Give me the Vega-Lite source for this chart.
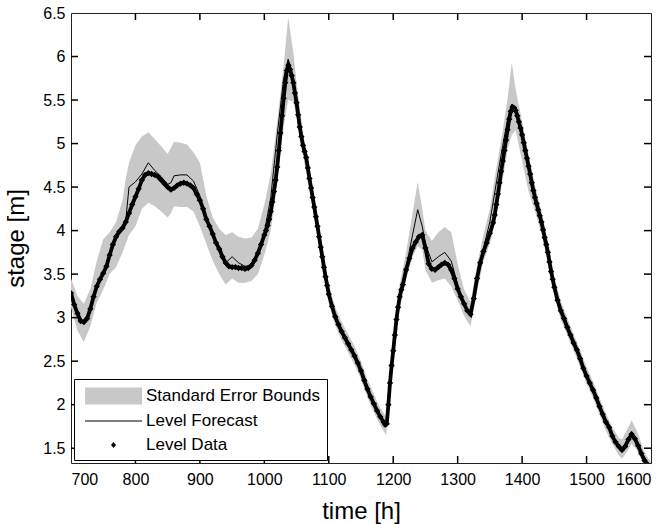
{
  "$schema": "https://vega.github.io/schema/vega-lite/v6.json",
  "width": 580,
  "height": 450,
  "autosize": {"type": "none"},
  "padding": {"left": 71, "top": 13, "right": 14, "bottom": 61},
  "background": "white",
  "config": {
    "view": {"stroke": "#222", "strokeWidth": 1},
    "font": "Liberation Sans",
    "axis": {
      "domain": false,
      "grid": false,
      "ticks": false,
      "labelColor": "black",
      "labelFontSize": 16,
      "labelFont": "Liberation Sans",
      "titleFont": "Liberation Sans",
      "titleFontSize": 24,
      "titleFontWeight": "normal",
      "titleColor": "black"
    }
  },
  "datasets": {
    "fc": [
      {"t": 700, "f": 3.28, "lo": 3.12, "hi": 3.45},
      {"t": 710, "f": 3.05, "lo": 2.85, "hi": 3.25},
      {"t": 720, "f": 2.95, "lo": 2.72, "hi": 3.16},
      {"t": 730, "f": 3.10, "lo": 2.90, "hi": 3.33},
      {"t": 740, "f": 3.36, "lo": 3.17, "hi": 3.65},
      {"t": 750, "f": 3.51, "lo": 3.32, "hi": 3.90},
      {"t": 760, "f": 3.72, "lo": 3.50, "hi": 3.98},
      {"t": 770, "f": 3.93, "lo": 3.58, "hi": 4.10},
      {"t": 780, "f": 4.03, "lo": 3.75, "hi": 4.35},
      {"t": 785, "f": 4.12, "lo": 3.85, "hi": 4.60},
      {"t": 790, "f": 4.50, "lo": 3.95, "hi": 4.78},
      {"t": 800, "f": 4.56, "lo": 4.05, "hi": 4.98},
      {"t": 810, "f": 4.65, "lo": 4.25, "hi": 5.08},
      {"t": 820, "f": 4.78, "lo": 4.32, "hi": 5.13},
      {"t": 830, "f": 4.69, "lo": 4.28, "hi": 5.05},
      {"t": 840, "f": 4.62, "lo": 4.22, "hi": 4.97},
      {"t": 850, "f": 4.53, "lo": 4.15, "hi": 4.88},
      {"t": 855, "f": 4.55, "lo": 4.20, "hi": 4.95},
      {"t": 860, "f": 4.63, "lo": 4.28, "hi": 5.02},
      {"t": 870, "f": 4.64, "lo": 4.27, "hi": 5.01},
      {"t": 880, "f": 4.64, "lo": 4.27, "hi": 4.99},
      {"t": 890, "f": 4.57, "lo": 4.22, "hi": 4.90},
      {"t": 900, "f": 4.40, "lo": 4.05, "hi": 4.78},
      {"t": 910, "f": 4.13, "lo": 3.85, "hi": 4.40},
      {"t": 920, "f": 3.96, "lo": 3.65, "hi": 4.15},
      {"t": 930, "f": 3.79, "lo": 3.50, "hi": 4.02},
      {"t": 940, "f": 3.63, "lo": 3.38, "hi": 3.95},
      {"t": 950, "f": 3.70, "lo": 3.45, "hi": 3.98},
      {"t": 960, "f": 3.63, "lo": 3.40, "hi": 3.93},
      {"t": 970, "f": 3.59, "lo": 3.40, "hi": 3.91},
      {"t": 980, "f": 3.60, "lo": 3.42, "hi": 3.92},
      {"t": 990, "f": 3.74, "lo": 3.50, "hi": 4.02},
      {"t": 1000, "f": 3.98, "lo": 3.72, "hi": 4.30},
      {"t": 1010, "f": 4.38, "lo": 4.00, "hi": 4.65},
      {"t": 1020, "f": 5.10, "lo": 4.55, "hi": 5.25},
      {"t": 1030, "f": 5.75, "lo": 5.20, "hi": 5.90},
      {"t": 1037, "f": 5.97, "lo": 5.50, "hi": 6.45},
      {"t": 1045, "f": 5.72, "lo": 5.48, "hi": 6.05},
      {"t": 1050, "f": 5.47, "lo": 5.30, "hi": 5.70},
      {"t": 1060, "f": 4.98, "lo": 4.86, "hi": 5.12},
      {"t": 1070, "f": 4.60, "lo": 4.47, "hi": 4.72},
      {"t": 1080, "f": 4.16, "lo": 4.04, "hi": 4.28},
      {"t": 1090, "f": 3.70, "lo": 3.58, "hi": 3.82},
      {"t": 1100, "f": 3.27, "lo": 3.16, "hi": 3.38},
      {"t": 1110, "f": 3.01, "lo": 2.91, "hi": 3.12},
      {"t": 1120, "f": 2.84, "lo": 2.74, "hi": 2.95},
      {"t": 1130, "f": 2.70, "lo": 2.60, "hi": 2.81},
      {"t": 1140, "f": 2.56, "lo": 2.46, "hi": 2.67},
      {"t": 1150, "f": 2.39, "lo": 2.29, "hi": 2.50},
      {"t": 1160, "f": 2.18, "lo": 2.08, "hi": 2.29},
      {"t": 1170, "f": 2.01, "lo": 1.91, "hi": 2.12},
      {"t": 1180, "f": 1.86, "lo": 1.76, "hi": 1.96},
      {"t": 1189, "f": 1.76, "lo": 1.65, "hi": 1.86},
      {"t": 1195, "f": 2.25, "lo": 2.12, "hi": 2.38},
      {"t": 1200, "f": 2.62, "lo": 2.50, "hi": 2.75},
      {"t": 1210, "f": 3.24, "lo": 3.10, "hi": 3.38},
      {"t": 1220, "f": 3.58, "lo": 3.44, "hi": 3.75},
      {"t": 1230, "f": 3.95, "lo": 3.70, "hi": 4.20},
      {"t": 1238, "f": 4.24, "lo": 3.82, "hi": 4.56},
      {"t": 1245, "f": 4.05, "lo": 3.78, "hi": 4.25},
      {"t": 1250, "f": 3.85, "lo": 3.55, "hi": 4.00},
      {"t": 1260, "f": 3.64, "lo": 3.40, "hi": 3.88},
      {"t": 1270, "f": 3.70, "lo": 3.43, "hi": 3.98},
      {"t": 1280, "f": 3.75, "lo": 3.45, "hi": 4.04},
      {"t": 1290, "f": 3.65, "lo": 3.36, "hi": 3.98},
      {"t": 1300, "f": 3.38, "lo": 3.20, "hi": 3.62},
      {"t": 1310, "f": 3.16, "lo": 3.02, "hi": 3.32},
      {"t": 1320, "f": 3.04, "lo": 2.90, "hi": 3.18},
      {"t": 1330, "f": 3.45, "lo": 3.30, "hi": 3.60},
      {"t": 1340, "f": 3.80, "lo": 3.65, "hi": 3.95},
      {"t": 1350, "f": 4.10, "lo": 3.85, "hi": 4.25},
      {"t": 1360, "f": 4.55, "lo": 4.15, "hi": 4.72},
      {"t": 1370, "f": 4.98, "lo": 4.60, "hi": 5.15},
      {"t": 1378, "f": 5.30, "lo": 4.95, "hi": 5.55},
      {"t": 1384, "f": 5.45, "lo": 5.10, "hi": 5.93},
      {"t": 1390, "f": 5.38, "lo": 5.15, "hi": 5.62},
      {"t": 1400, "f": 5.10, "lo": 4.80, "hi": 5.25},
      {"t": 1410, "f": 4.74, "lo": 4.45, "hi": 4.88},
      {"t": 1420, "f": 4.38, "lo": 4.22, "hi": 4.52},
      {"t": 1430, "f": 4.10, "lo": 3.96, "hi": 4.22},
      {"t": 1440, "f": 3.75, "lo": 3.62, "hi": 3.88},
      {"t": 1450, "f": 3.35, "lo": 3.24, "hi": 3.47},
      {"t": 1460, "f": 3.08, "lo": 2.98, "hi": 3.19},
      {"t": 1470, "f": 2.89, "lo": 2.80, "hi": 3.00},
      {"t": 1480, "f": 2.71, "lo": 2.62, "hi": 2.81},
      {"t": 1490, "f": 2.53, "lo": 2.44, "hi": 2.63},
      {"t": 1500, "f": 2.33, "lo": 2.24, "hi": 2.43},
      {"t": 1510, "f": 2.17, "lo": 2.08, "hi": 2.27},
      {"t": 1520, "f": 1.98, "lo": 1.89, "hi": 2.08},
      {"t": 1530, "f": 1.80, "lo": 1.70, "hi": 1.90},
      {"t": 1540, "f": 1.64, "lo": 1.55, "hi": 1.74},
      {"t": 1550, "f": 1.52, "lo": 1.42, "hi": 1.62},
      {"t": 1555, "f": 1.48, "lo": 1.38, "hi": 1.60},
      {"t": 1562, "f": 1.55, "lo": 1.45, "hi": 1.70},
      {"t": 1570, "f": 1.66, "lo": 1.55, "hi": 1.82},
      {"t": 1578, "f": 1.58, "lo": 1.48, "hi": 1.70},
      {"t": 1590, "f": 1.36, "lo": 1.28, "hi": 1.45},
      {"t": 1600, "f": 1.28, "lo": 1.22, "hi": 1.34}
    ],
    "obs": [
      {"t": 700, "d": 3.28}, {"t": 705, "d": 3.15}, {"t": 710, "d": 3.05}, {"t": 715, "d": 2.96},
      {"t": 720, "d": 2.95}, {"t": 725, "d": 2.99}, {"t": 730, "d": 3.10}, {"t": 735, "d": 3.24},
      {"t": 740, "d": 3.36}, {"t": 745, "d": 3.44}, {"t": 750, "d": 3.51}, {"t": 755, "d": 3.59},
      {"t": 760, "d": 3.72}, {"t": 765, "d": 3.84}, {"t": 770, "d": 3.93}, {"t": 775, "d": 3.99},
      {"t": 780, "d": 4.03}, {"t": 785, "d": 4.10}, {"t": 790, "d": 4.20}, {"t": 795, "d": 4.30},
      {"t": 800, "d": 4.39}, {"t": 805, "d": 4.48}, {"t": 810, "d": 4.58}, {"t": 815, "d": 4.64},
      {"t": 820, "d": 4.66}, {"t": 825, "d": 4.65}, {"t": 830, "d": 4.64}, {"t": 835, "d": 4.62},
      {"t": 840, "d": 4.58}, {"t": 845, "d": 4.54}, {"t": 850, "d": 4.50}, {"t": 855, "d": 4.47},
      {"t": 860, "d": 4.49}, {"t": 865, "d": 4.52}, {"t": 870, "d": 4.54}, {"t": 875, "d": 4.55},
      {"t": 880, "d": 4.54}, {"t": 885, "d": 4.52}, {"t": 890, "d": 4.49}, {"t": 895, "d": 4.42},
      {"t": 900, "d": 4.35}, {"t": 905, "d": 4.25}, {"t": 910, "d": 4.13}, {"t": 915, "d": 4.05},
      {"t": 920, "d": 3.96}, {"t": 925, "d": 3.86}, {"t": 930, "d": 3.79}, {"t": 935, "d": 3.70},
      {"t": 940, "d": 3.63}, {"t": 945, "d": 3.59}, {"t": 950, "d": 3.58}, {"t": 955, "d": 3.58},
      {"t": 960, "d": 3.57}, {"t": 965, "d": 3.57}, {"t": 970, "d": 3.56}, {"t": 975, "d": 3.57},
      {"t": 980, "d": 3.60}, {"t": 985, "d": 3.66}, {"t": 990, "d": 3.74}, {"t": 995, "d": 3.84},
      {"t": 1000, "d": 3.95}, {"t": 1002.5, "d": 4.00}, {"t": 1005, "d": 4.06}, {"t": 1007.5, "d": 4.13},
      {"t": 1010, "d": 4.22}, {"t": 1012.5, "d": 4.33}, {"t": 1015, "d": 4.45}, {"t": 1017.5, "d": 4.58},
      {"t": 1020, "d": 4.73}, {"t": 1022.5, "d": 4.92}, {"t": 1025, "d": 5.12}, {"t": 1027.5, "d": 5.32},
      {"t": 1030, "d": 5.52}, {"t": 1032.5, "d": 5.70}, {"t": 1035, "d": 5.84}, {"t": 1037.5, "d": 5.90},
      {"t": 1040, "d": 5.85}, {"t": 1042.5, "d": 5.78}, {"t": 1045, "d": 5.70}, {"t": 1047.5, "d": 5.58},
      {"t": 1050, "d": 5.47}, {"t": 1052.5, "d": 5.33}, {"t": 1055, "d": 5.19}, {"t": 1057.5, "d": 5.08},
      {"t": 1060, "d": 4.98}, {"t": 1062.5, "d": 4.91}, {"t": 1065, "d": 4.84}, {"t": 1067.5, "d": 4.72},
      {"t": 1070, "d": 4.60}, {"t": 1072.5, "d": 4.49}, {"t": 1075, "d": 4.38}, {"t": 1077.5, "d": 4.27},
      {"t": 1080, "d": 4.16}, {"t": 1082.5, "d": 4.05}, {"t": 1085, "d": 3.93}, {"t": 1087.5, "d": 3.81},
      {"t": 1090, "d": 3.70}, {"t": 1092.5, "d": 3.58}, {"t": 1095, "d": 3.47}, {"t": 1097.5, "d": 3.37},
      {"t": 1100, "d": 3.27}, {"t": 1105, "d": 3.13}, {"t": 1110, "d": 3.01}, {"t": 1115, "d": 2.92},
      {"t": 1120, "d": 2.84}, {"t": 1125, "d": 2.77}, {"t": 1130, "d": 2.70}, {"t": 1135, "d": 2.63},
      {"t": 1140, "d": 2.56}, {"t": 1145, "d": 2.48}, {"t": 1150, "d": 2.39}, {"t": 1155, "d": 2.28},
      {"t": 1160, "d": 2.18}, {"t": 1165, "d": 2.09}, {"t": 1170, "d": 2.01}, {"t": 1175, "d": 1.93},
      {"t": 1180, "d": 1.86}, {"t": 1185, "d": 1.80}, {"t": 1187.5, "d": 1.77}, {"t": 1190, "d": 1.78},
      {"t": 1192.5, "d": 2.00}, {"t": 1195, "d": 2.25}, {"t": 1197.5, "d": 2.45}, {"t": 1200, "d": 2.62},
      {"t": 1202.5, "d": 2.80}, {"t": 1205, "d": 2.98}, {"t": 1207.5, "d": 3.12}, {"t": 1210, "d": 3.24},
      {"t": 1212.5, "d": 3.32}, {"t": 1215, "d": 3.38}, {"t": 1220, "d": 3.55}, {"t": 1225, "d": 3.68},
      {"t": 1230, "d": 3.80}, {"t": 1235, "d": 3.87}, {"t": 1240, "d": 3.93}, {"t": 1245, "d": 3.95},
      {"t": 1250, "d": 3.80}, {"t": 1255, "d": 3.62}, {"t": 1260, "d": 3.56}, {"t": 1265, "d": 3.55},
      {"t": 1270, "d": 3.58}, {"t": 1275, "d": 3.61}, {"t": 1280, "d": 3.63}, {"t": 1285, "d": 3.61},
      {"t": 1290, "d": 3.55}, {"t": 1295, "d": 3.45}, {"t": 1300, "d": 3.33}, {"t": 1305, "d": 3.24},
      {"t": 1310, "d": 3.16}, {"t": 1315, "d": 3.08}, {"t": 1320, "d": 3.04}, {"t": 1325, "d": 3.22},
      {"t": 1330, "d": 3.45}, {"t": 1335, "d": 3.63}, {"t": 1340, "d": 3.76}, {"t": 1345, "d": 3.86},
      {"t": 1350, "d": 3.97}, {"t": 1355, "d": 4.09}, {"t": 1357.5, "d": 4.18}, {"t": 1360, "d": 4.30},
      {"t": 1362.5, "d": 4.42}, {"t": 1365, "d": 4.55}, {"t": 1367.5, "d": 4.68}, {"t": 1370, "d": 4.80},
      {"t": 1372.5, "d": 4.92}, {"t": 1375, "d": 5.04}, {"t": 1377.5, "d": 5.16}, {"t": 1380, "d": 5.28},
      {"t": 1382.5, "d": 5.37}, {"t": 1385, "d": 5.42}, {"t": 1387.5, "d": 5.41}, {"t": 1390, "d": 5.38},
      {"t": 1392.5, "d": 5.32}, {"t": 1395, "d": 5.25}, {"t": 1397.5, "d": 5.18}, {"t": 1400, "d": 5.10},
      {"t": 1402.5, "d": 5.01}, {"t": 1405, "d": 4.92}, {"t": 1407.5, "d": 4.83}, {"t": 1410, "d": 4.74},
      {"t": 1412.5, "d": 4.65}, {"t": 1415, "d": 4.55}, {"t": 1417.5, "d": 4.46}, {"t": 1420, "d": 4.38},
      {"t": 1422.5, "d": 4.31}, {"t": 1425, "d": 4.24}, {"t": 1427.5, "d": 4.17}, {"t": 1430, "d": 4.10},
      {"t": 1432.5, "d": 4.01}, {"t": 1435, "d": 3.92}, {"t": 1437.5, "d": 3.84}, {"t": 1440, "d": 3.75},
      {"t": 1442.5, "d": 3.64}, {"t": 1445, "d": 3.53}, {"t": 1447.5, "d": 3.44}, {"t": 1450, "d": 3.35},
      {"t": 1455, "d": 3.20}, {"t": 1460, "d": 3.08}, {"t": 1465, "d": 2.99}, {"t": 1470, "d": 2.89},
      {"t": 1475, "d": 2.80}, {"t": 1480, "d": 2.71}, {"t": 1485, "d": 2.63}, {"t": 1490, "d": 2.53},
      {"t": 1495, "d": 2.42}, {"t": 1500, "d": 2.33}, {"t": 1505, "d": 2.25}, {"t": 1510, "d": 2.17},
      {"t": 1515, "d": 2.08}, {"t": 1520, "d": 1.98}, {"t": 1525, "d": 1.89}, {"t": 1530, "d": 1.80},
      {"t": 1535, "d": 1.74}, {"t": 1540, "d": 1.64}, {"t": 1545, "d": 1.57}, {"t": 1550, "d": 1.52},
      {"t": 1555, "d": 1.48}, {"t": 1560, "d": 1.52}, {"t": 1565, "d": 1.60}, {"t": 1570, "d": 1.66},
      {"t": 1575, "d": 1.61}, {"t": 1580, "d": 1.53}, {"t": 1585, "d": 1.44}, {"t": 1590, "d": 1.36},
      {"t": 1595, "d": 1.31}, {"t": 1600, "d": 1.27}
    ],
    "legendItems": [
      {"s": "Standard Error Bounds"},
      {"s": "Level Forecast"},
      {"s": "Level Data"}
    ],
    "xTicks": [
      {"v": 800}, {"v": 900}, {"v": 1000}, {"v": 1100}, {"v": 1200}, {"v": 1300}, {"v": 1400}, {"v": 1500}
    ],
    "yTicks": [
      {"v": 1.5}, {"v": 2}, {"v": 2.5}, {"v": 3}, {"v": 3.5}, {"v": 4}, {"v": 4.5}, {"v": 5}, {"v": 5.5}, {"v": 6}
    ]
  },
  "layer": [
    {
      "data": {"name": "fc"},
      "mark": {"type": "area", "color": "#c8c8c8", "clip": true},
      "encoding": {
        "x": {
          "field": "t", "type": "quantitative",
          "scale": {"domain": [700, 1600], "nice": false, "zero": false},
          "axis": {
            "values": [700, 800, 900, 1000, 1100, 1200, 1300, 1400, 1500, 1600],
            "format": "d",
            "title": "time [h]",
            "labelPadding": 8,
            "titlePadding": 12
          }
        },
        "y": {
          "field": "lo", "type": "quantitative",
          "scale": {"domain": [1.33, 6.5], "nice": false, "zero": false},
          "axis": {
            "values": [1.5, 2, 2.5, 3, 3.5, 4, 4.5, 5, 5.5, 6, 6.5],
            "format": "~g",
            "title": "stage [m]",
            "labelPadding": 6,
            "titlePadding": 14
          }
        },
        "y2": {"field": "hi"}
      }
    },
    {
      "data": {"name": "obs"},
      "mark": {"type": "line", "color": "black", "strokeWidth": 3.8, "clip": true},
      "encoding": {
        "x": {"field": "t", "type": "quantitative"},
        "y": {"field": "d", "type": "quantitative"}
      }
    },
    {
      "data": {"name": "obs"},
      "mark": {"type": "point", "shape": "diamond", "filled": true, "color": "black", "size": 40, "opacity": 1, "clip": true},
      "encoding": {
        "x": {"field": "t", "type": "quantitative"},
        "y": {"field": "d", "type": "quantitative"}
      }
    },
    {
      "data": {"name": "fc"},
      "mark": {"type": "line", "color": "black", "strokeWidth": 1, "clip": true},
      "encoding": {
        "x": {"field": "t", "type": "quantitative"},
        "y": {"field": "f", "type": "quantitative"}
      }
    },
    {
      "data": {"name": "xTicks"},
      "mark": {"type": "tick", "orient": "vertical", "size": 14, "thickness": 1.5, "color": "black", "opacity": 1, "clip": true},
      "encoding": {
        "x": {"field": "v", "type": "quantitative"},
        "y": {"datum": 1.33, "type": "quantitative"}
      }
    },
    {
      "data": {"name": "xTicks"},
      "mark": {"type": "tick", "orient": "vertical", "size": 14, "thickness": 1.5, "color": "black", "opacity": 1, "clip": true},
      "encoding": {
        "x": {"field": "v", "type": "quantitative"},
        "y": {"datum": 6.5, "type": "quantitative"}
      }
    },
    {
      "data": {"name": "yTicks"},
      "mark": {"type": "tick", "orient": "horizontal", "size": 14, "thickness": 1.5, "color": "black", "opacity": 1, "clip": true},
      "encoding": {
        "y": {"field": "v", "type": "quantitative"},
        "x": {"datum": 700, "type": "quantitative"}
      }
    },
    {
      "data": {"name": "yTicks"},
      "mark": {"type": "tick", "orient": "horizontal", "size": 14, "thickness": 1.5, "color": "black", "opacity": 1, "clip": true},
      "encoding": {
        "y": {"field": "v", "type": "quantitative"},
        "x": {"datum": 1600, "type": "quantitative"}
      }
    },
    {
      "data": {"name": "legendItems"},
      "mark": {"type": "point", "filled": true, "opacity": 0},
      "encoding": {
        "color": {
          "field": "s", "type": "nominal",
          "scale": {
            "domain": ["Standard Error Bounds", "Level Forecast", "Level Data"],
            "range": ["#c8c8c8", "black", "black"]
          },
          "legend": {
            "title": null,
            "orient": "bottom-left",
            "offset": 3,
            "padding": 7,
            "strokeColor": "black",
            "fillColor": "white",
            "symbolSize": 400,
            "symbolStrokeWidth": 0,
            "rowPadding": 6,
            "labelOffset": 45,
            "labelFontSize": 17,
            "labelColor": "black",
            "labelFont": "Liberation Sans",
            "labelLimit": 400,
            "encode": {"symbols": {"update": {"opacity": {"value": 1}}}}
          }
        },
        "shape": {
          "field": "s", "type": "nominal",
          "scale": {
            "domain": ["Standard Error Bounds", "Level Forecast", "Level Data"],
            "range": [
              "M-0.6,-0.85H5.1V0.85H-0.6Z",
              "M-0.6,-0.05H5.1V0.05H-0.6Z",
              "M2.25,-0.3L2.5,0L2.25,0.3L2,0Z"
            ]
          },
          "legend": {
            "title": null,
            "orient": "bottom-left",
            "offset": 3,
            "padding": 7,
            "strokeColor": "black",
            "fillColor": "white",
            "symbolSize": 400,
            "symbolStrokeWidth": 0,
            "rowPadding": 6,
            "labelOffset": 45,
            "labelFontSize": 17,
            "labelColor": "black",
            "labelFont": "Liberation Sans",
            "labelLimit": 400,
            "encode": {"symbols": {"update": {"opacity": {"value": 1}}}}
          }
        }
      }
    }
  ]
}
